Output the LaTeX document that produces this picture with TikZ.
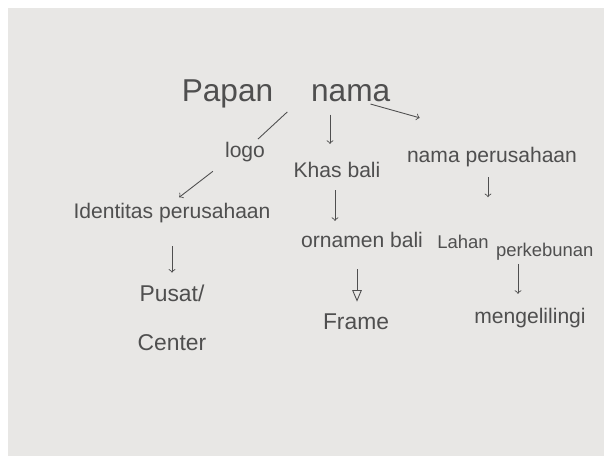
\documentclass[tikz,border=0pt]{standalone}
\usepackage{fontspec}
\setmainfont{Liberation Sans}
\usetikzlibrary{arrows, positioning}
\definecolor{paper}{HTML}{E8E7E5}
\definecolor{pencil}{HTML}{4F4F4F}

\begin{document}
\begin{tikzpicture}[x=0.02cm, y=-0.02cm,
  label/.style={inner sep=0pt, text=pencil, font=\fontsize{12}{14}\selectfont},
  link/.style={pencil, line width=0.5pt},
  arr/.style={link, ->}]
% Paper and white margin
\fill[white] (0,0) rectangle (604,459);
\fill[paper] (8,8) rectangle (604,456);
\useasboundingbox (0,0) rectangle (604,459);

% Text
\node[label, font=\fontsize{18}{20}\selectfont] (papan) at (286,94) {Papan\hspace{1.2em}nama};
\node[label] (logo) at (245,152) {logo};
\node[label] (khas) at (337,170) {Khas bali};
\node[label] (namaper) at (492,157) {nama perusahaan};
\node[label] (identitas) at (172,213) {Identitas perusahaan};
\node[label] (ornamen) at (362,240) {ornamen bali};
\node[label, anchor=west, font=\fontsize{10.5}{12}\selectfont] (lahan) at (437,248) {Lahan\hspace{0.4em}\raisebox{-0.8ex}{perkebunan}};
\node[label, align=center, font=\fontsize{13}{28}\selectfont] (pusat) at (172,318) {Pusat/\\Center};
\node[label, font=\fontsize{13}{15}\selectfont] (frame) at (356,322) {Frame};
\node[label] (meng) at (530,318) {mengelilingi};

% Connectors
\draw[link, shorten <=1mm, shorten >=0.8mm] ([xshift=1mm]papan.south) -- ([xshift=2mm]logo.north);
\draw[arr, shorten <=1.2mm, shorten >=3.6mm] ([xshift=-1.4mm]papan.south -| khas.north) -- ([xshift=-1.4mm]khas.north);
\draw[arr, shorten <=0.4mm] ([xshift=-4.4mm,yshift=1mm]papan.south east) -- ([xshift=2.6mm,yshift=5.8mm]namaper.north west);
\draw[arr, shorten <=3mm, shorten >=1.8mm] (logo.south west) -- (identitas.north);
\draw[arr, shorten <=2.4mm, shorten >=2.2mm] ([xshift=-0.4mm]khas.south) -- ([xshift=-0.4mm]khas.south |- ornamen.north);
\draw[arr, shorten <=2mm, shorten >=7.6mm] ([xshift=-0.8mm]namaper.south) -- ([xshift=-0.8mm]namaper.south |- lahan.north);
\draw[arr, shorten <=4.6mm, shorten >=2.4mm] (identitas.south) -- (identitas.south |- pusat.north);
\draw[link, -open triangle 45, shorten <=4.2mm, shorten >=2.4mm] ([xshift=-1mm]ornamen.south) -- ([xshift=-1mm]ornamen.south |- frame.north);
\draw[arr, shorten <=0.6mm, shorten >=2.8mm] ([xshift=-2.4mm]meng.north |- lahan.south) -- ([xshift=-2.4mm]meng.north);
\end{tikzpicture}
\end{document}
